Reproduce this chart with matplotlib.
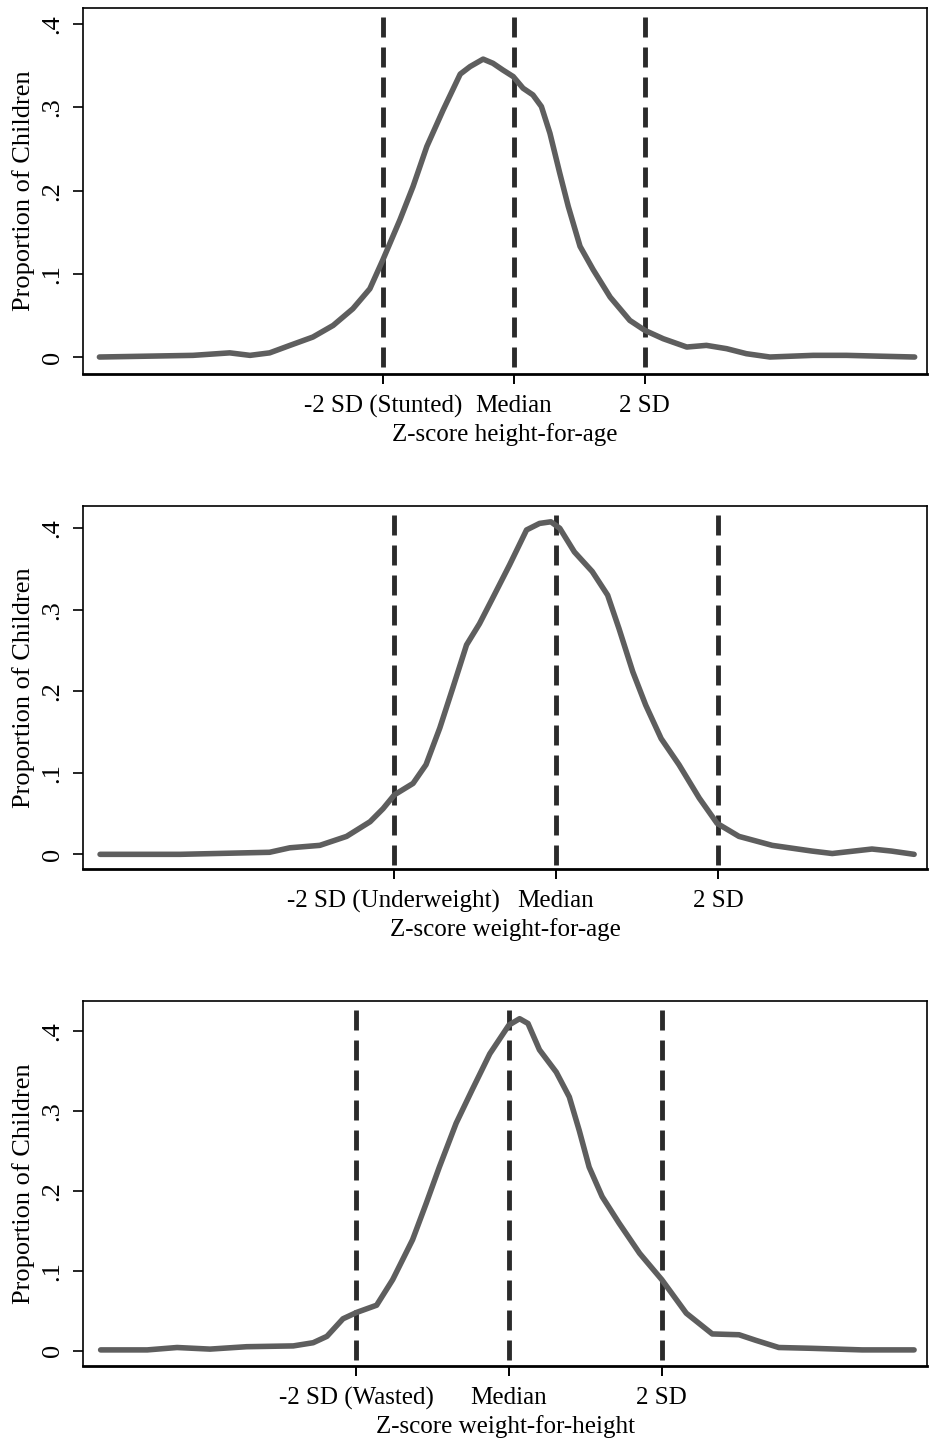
import matplotlib.pyplot as plt
from matplotlib.transforms import blended_transform_factory

plt.rcParams['font.family'] = ['Liberation Serif', 'DejaVu Serif']
plt.rcParams['lines.scale_dashes'] = False

# z-score grid and kernel density
haz_z = [-6.33, -5.61, -4.90, -4.34, -4.03, -3.73, -3.42, -3.07, -2.76, -2.46,
         -2.20, -2.00, -1.74, -1.54, -1.33, -1.08, -0.82, -0.67, -0.47, -0.32,
         -0.17, -0.01, 0.14, 0.29, 0.42, 0.55, 0.70, 0.83, 1.01, 1.21,
         1.47, 1.77, 2.00, 2.28, 2.64, 2.94, 3.25, 3.55, 3.91, 4.57,
         5.08, 5.59, 6.12]
haz_density = [0.000, 0.001, 0.002, 0.005, 0.002, 0.005, 0.014, 0.024, 0.038, 0.058,
               0.082, 0.117, 0.165, 0.205, 0.253, 0.297, 0.340, 0.349, 0.358, 0.353,
               0.345, 0.337, 0.323, 0.315, 0.301, 0.269, 0.221, 0.181, 0.133, 0.105,
               0.072, 0.044, 0.032, 0.022, 0.012, 0.014, 0.010, 0.004, 0.000, 0.002,
               0.002, 0.001, 0.000]

waz_z = [-5.62, -4.63, -3.53, -3.28, -2.91, -2.58, -2.29, -2.13, -1.99, -1.76,
         -1.60, -1.43, -1.27, -1.10, -0.94, -0.78, -0.57, -0.36, -0.20, -0.06,
         0.05, 0.23, 0.45, 0.64, 0.78, 0.95, 1.11, 1.30, 1.52, 1.77,
         1.99, 2.26, 2.67, 3.16, 3.41, 3.90, 4.14, 4.42]
waz_density = [0.000, 0.000, 0.0025, 0.008, 0.011, 0.022, 0.040, 0.056, 0.073, 0.087,
               0.110, 0.155, 0.204, 0.257, 0.283, 0.314, 0.355, 0.398, 0.406, 0.408,
               0.400, 0.371, 0.347, 0.318, 0.277, 0.224, 0.183, 0.142, 0.110, 0.069,
               0.038, 0.022, 0.011, 0.004, 0.001, 0.0065, 0.004, 0.000]

whz_z = [-5.34, -4.73, -4.34, -3.91, -3.43, -2.82, -2.56, -2.38, -2.17, -1.99,
         -1.73, -1.52, -1.26, -1.08, -0.91, -0.69, -0.48, -0.25, 0.00, 0.14,
         0.25, 0.40, 0.62, 0.79, 0.92, 1.05, 1.22, 1.44, 1.71, 2.00,
         2.32, 2.66, 3.01, 3.23, 3.53, 3.96, 4.62, 5.30]
whz_density = [0.001, 0.001, 0.004, 0.002, 0.005, 0.006, 0.010, 0.018, 0.040, 0.048,
               0.057, 0.089, 0.139, 0.185, 0.230, 0.285, 0.327, 0.372, 0.408, 0.416,
               0.410, 0.377, 0.349, 0.318, 0.276, 0.230, 0.193, 0.160, 0.122, 0.089,
               0.047, 0.021, 0.020, 0.013, 0.004, 0.003, 0.001, 0.001]

cutoffs = [-2, 0, 2]
low_labels = ['-2 SD (Stunted)', '-2 SD (Underweight)', '-2 SD (Wasted)']
axis_titles = ['Z-score height-for-age', 'Z-score weight-for-age', 'Z-score weight-for-height']
y_ticks = [0, 0.1, 0.2, 0.3, 0.4]
y_ticklabels = ['0', '.1', '.2', '.3', '.4']

series = [(haz_z, haz_density), (waz_z, waz_density), (whz_z, whz_density)]

# layout of each panel: axes rect, x range, y range
rects = [[0.0892, 0.741, 0.9066, 0.2535],
         [0.0892, 0.3982, 0.9066, 0.2514],
         [0.0892, 0.054, 0.9066, 0.2528]]
xlims = [(-6.58, 6.31), (-5.83, 4.58), (-5.57, 5.47)]
ylims = [(-0.0204, 0.4195), (-0.018, 0.4274), (-0.0192, 0.4382)]

fig = plt.figure(figsize=(9.31, 14.44), dpi=100)

for i in range(3):
    ax = fig.add_axes(rects[i])
    z, dens = series[i]

    # cutoff lines, dashes start from the top
    trans = blended_transform_factory(ax.transData, ax.transAxes)
    for c in cutoffs:
        ax.plot([c, c], [0.976, 0], transform=trans, color='#2b2b2b', lw=3.5,
                linestyle=(0, (14.4, 7.2)), solid_capstyle='butt', zorder=2)

    ax.plot(z, dens, color='#5e5e5e', lw=4.0, solid_capstyle='round',
            solid_joinstyle='round', zorder=3)

    ax.set_xlim(xlims[i])
    ax.set_ylim(ylims[i])

    ax.set_xticks(cutoffs)
    ax.set_xticklabels([low_labels[i], 'Median', '2 SD'], fontsize=18)
    ax.set_yticks(y_ticks)
    ax.set_yticklabels(y_ticklabels, fontsize=19, rotation=90, va='center')

    ax.tick_params(axis='x', direction='out', length=7, width=1.4, pad=8, colors='black')
    ax.tick_params(axis='y', direction='out', length=7, width=1.2, pad=7)

    ax.set_xlabel(axis_titles[i], fontsize=18, labelpad=4)
    ax.set_ylabel('Proportion of Children', fontsize=19)
    ax.yaxis.set_label_coords(-0.057, 0.5)

    for side in ['left', 'top', 'right']:
        ax.spines[side].set_linewidth(1.2)
    ax.spines['bottom'].set_linewidth(2.0)

fig.savefig('out.png', dpi=100, facecolor='white')
